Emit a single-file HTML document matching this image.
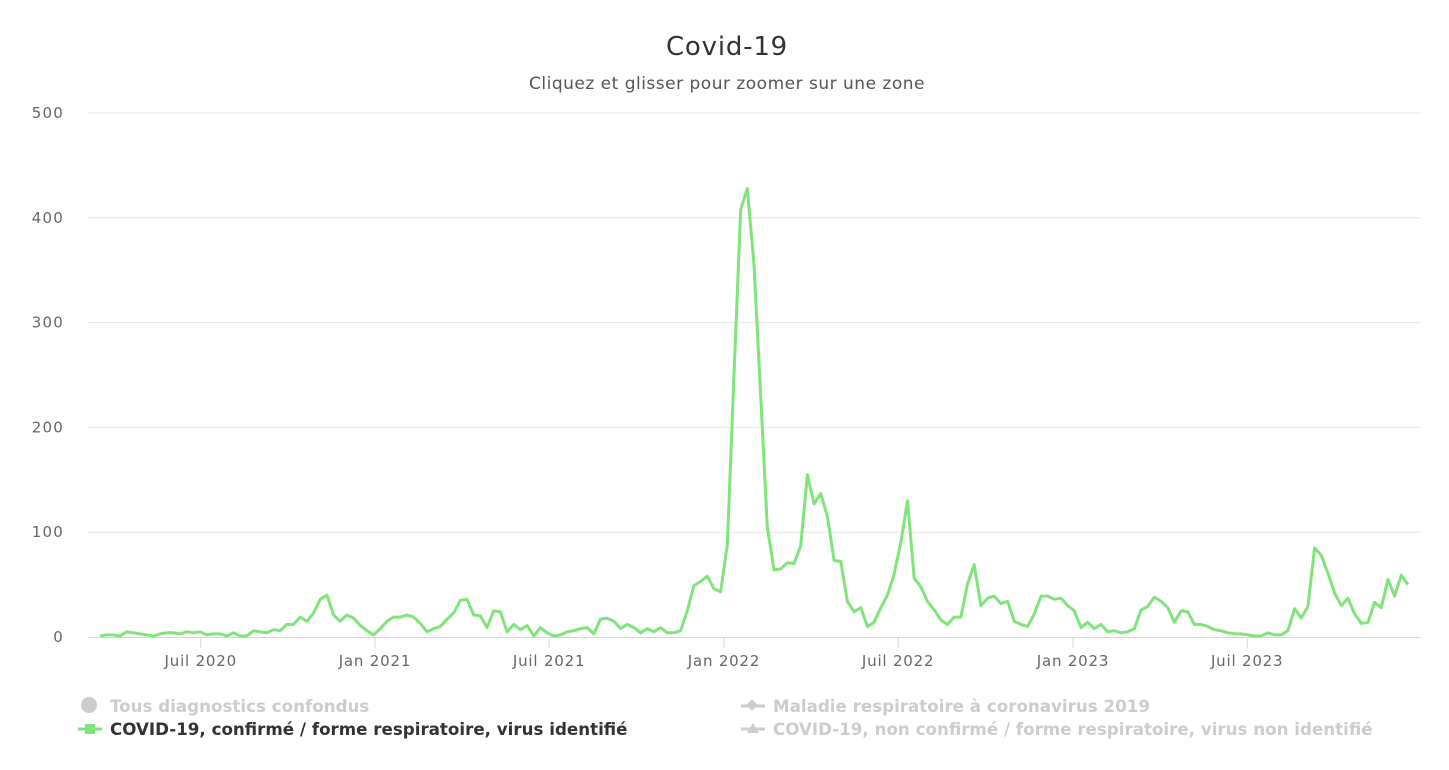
<!DOCTYPE html>
<html><head><meta charset="utf-8"><style>
body{margin:0;background:#fff;font-family:"DejaVu Sans",sans-serif}
svg text{font-family:"DejaVu Sans",sans-serif}
</style></head><body>
<svg width="1449" height="766">
<text x="727" y="55" text-anchor="middle" font-size="26" letter-spacing="0.8" fill="#333">Covid-19</text>
<text x="727" y="89" text-anchor="middle" font-size="17" letter-spacing="0.5" fill="#555">Cliquez et glisser pour zoomer sur une zone</text>
<g id="grid"></g>
<g id="xaxis"></g>
<g id="series"></g>
<g font-size="16.7" font-weight="bold">
 <g><circle cx="89" cy="705" r="8" fill="#ccc"/><text x="110" y="712" fill="#ccc">Tous diagnostics confondus</text></g>
 <g><line x1="78" y1="729" x2="102" y2="729" stroke="#7fe57a" stroke-width="3"/><rect x="85" y="724" width="10" height="10" fill="#7fe57a"/><text x="110" y="735" fill="#333">COVID-19, confirmé / forme respiratoire, virus identifié</text></g>
 <g><line x1="741" y1="706" x2="765" y2="706" stroke="#ccc" stroke-width="3"/><rect x="748" y="701" width="8" height="8" fill="#ccc" transform="rotate(45 752 705)"/><text x="773" y="712" fill="#ccc">Maladie respiratoire à coronavirus 2019</text></g>
 <g><line x1="741" y1="729" x2="765" y2="729" stroke="#ccc" stroke-width="3"/><polygon points="753,723 759,733 747,733" fill="#ccc"/><text x="773" y="735" fill="#ccc">COVID-19, non confirmé / forme respiratoire, virus non identifié</text></g>
</g>
</svg>
<script>
const yTicks=[0,100,200,300,400,500];
const xTickLabels=["Juil 2020","Jan 2021","Juil 2021","Jan 2022","Juil 2022","Jan 2023","Juil 2023"];
const xTickWeeks=[15.1,41.2,67.3,93.5,119.6,145.8,171.9];
const values=[1,2,2,1,5,4,3,2,1,3,4,4,3,5,4,5,2,3,3,1,4,1,1,6,5,4,7,6,12,12,19,15,23,36,40,21,15,21,18,11,6,2,8,15,19,19,21,19,13,5,8,10,17,23,35,36,21,20,9,25,24,5,12,7,11,1,9,4,1,2,5,6,8,9,3,17,18,15,8,12,9,4,8,5,9,4,4,6,25,49,53,58,46,43,88,250,408,428,355,230,105,64,65,71,70,87,155,127,137,115,73,72,34,24,28,10,14,28,40,60,90,130,56,48,34,26,16,12,19,19,51,69,30,37,39,32,34,15,12,10,22,39,39,36,37,30,25,9,14,8,12,5,6,4,5,8,26,29,38,34,28,14,25,24,12,12,10,7,6,4,3,3,2,1,1,4,2,2,6,27,18,29,85,78,61,42,30,37,22,13,14,33,28,55,39,59,50];
const NS="http://www.w3.org/2000/svg";
const x0=100,step=(1408-100)/(values.length-1);
const xs=i=>x0+i*step;
const ys=v=>637-v*(524/500);
const g=document.getElementById('grid'),xa=document.getElementById('xaxis'),s=document.getElementById('series');
function mk(tag,at,p){const e=document.createElementNS(NS,tag);for(const k in at)e.setAttribute(k,at[k]);p.appendChild(e);return e;}
yTicks.forEach(v=>{
 const l=mk('line',{x1:88,x2:1421,y1:ys(v),y2:ys(v),stroke:v?'#e6e6e6':'none','stroke-width':1},g);
 
 
 const t=mk('text',{x:64,y:ys(v)+5,'text-anchor':'end','font-size':15,'letter-spacing':1.2,fill:'#666'},g);t.textContent=v;
 
 
});
const ax=mk('line',{x1:88,x2:1421,y1:637.5,y2:637.5,stroke:'#ccd6eb'},xa);


xTickLabels.forEach((lab,i)=>{
 const x=xs(xTickWeeks[i]);
 mk('line',{x1:x,x2:x,y1:637,y2:648,stroke:'#ccd6eb'},xa);
 const t=mk('text',{x:x,y:666,'text-anchor':'middle','font-size':15,'letter-spacing':0.8,fill:'#666'},xa);t.textContent=lab;
 
 
});
const p=mk('path',{d:values.map((v,i)=>(i?'L':'M')+xs(i).toFixed(1)+','+ys(v).toFixed(1)).join(''),fill:'none',stroke:'#7fe57a','stroke-width':3,'stroke-linejoin':'round'},s);


</script>
</body></html>
